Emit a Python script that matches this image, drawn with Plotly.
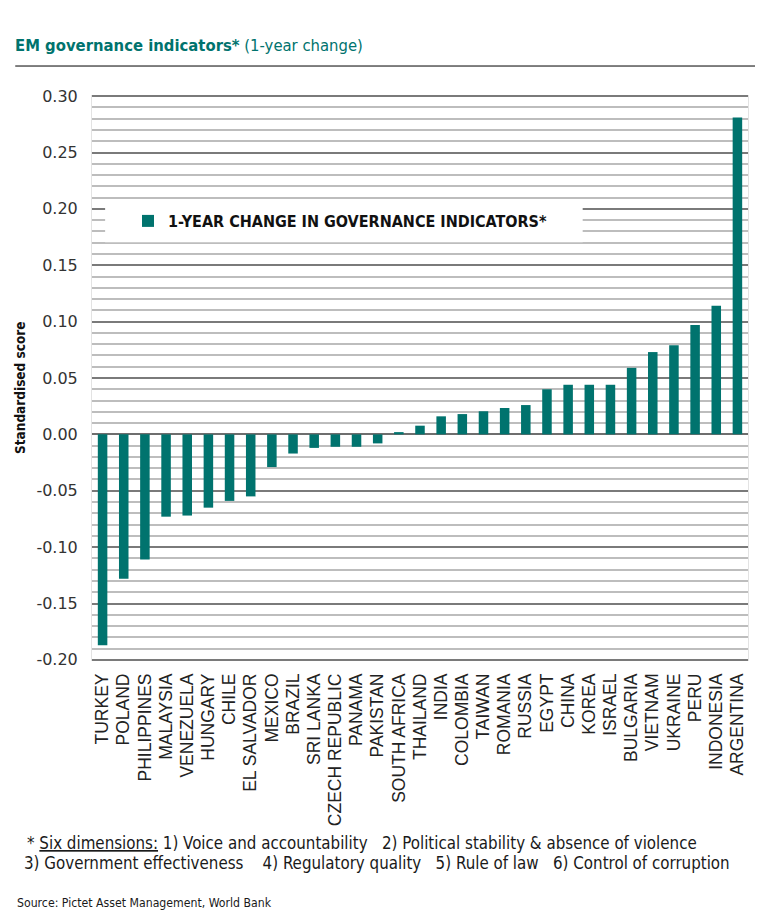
#EM governance indicators, 1-year change

import plotly.graph_objects as go

#%%
#data
countries = ["TURKEY", "POLAND", "PHILIPPINES", "MALAYSIA", "VENEZUELA", "HUNGARY",
             "CHILE", "EL SALVADOR", "MEXICO", "BRAZIL", "SRI LANKA", "CZECH REPUBLIC",
             "PANAMA", "PAKISTAN", "SOUTH AFRICA", "THAILAND", "INDIA", "COLOMBIA",
             "TAIWAN", "ROMANIA", "RUSSIA", "EGYPT", "CHINA", "KOREA", "ISRAEL",
             "BULGARIA", "VIETNAM", "UKRAINE", "PERU", "INDONESIA", "ARGENTINA"]
change = [-0.187, -0.128, -0.111, -0.073, -0.072, -0.065,
          -0.059, -0.055, -0.029, -0.017, -0.012, -0.011,
          -0.011, -0.008, 0.002, 0.0077, 0.016, 0.018,
          0.0205, 0.0234, 0.026, 0.040, 0.044, 0.044, 0.044,
          0.059, 0.073, 0.079, 0.097, 0.114, 0.281]
y_ticks = [0.30, 0.25, 0.20, 0.15, 0.10, 0.05, 0.00, -0.05, -0.10, -0.15, -0.20]

teal = "#00736e"
narrow = "Liberation Sans Narrow, DejaVu Sans Condensed, Arial Narrow, sans-serif"
regular = "Liberation Sans, Arial, sans-serif"

#page has an 8px body margin, so the figure is 8px smaller than the window
W, H = 755, 911

#%%
fig = go.Figure()
fig.add_trace(go.Bar(
    x=countries, y=change,
    name="<b>1-YEAR CHANGE IN GOVERNANCE INDICATORS*</b>",
    marker=dict(color=teal, line=dict(width=0)),
))

fig.update_xaxes(
    tickangle=-90,
    tickfont=dict(family=regular, size=17.5, color="#222222"),
    ticklabelstandoff=8,
    showgrid=False,
    ticks="",
)

fig.update_yaxes(
    range=[-0.201, 0.301],
    tickvals=y_ticks,
    ticktext=[f"{v:.2f}" for v in y_ticks],
    tickfont=dict(family="DejaVu Sans, sans-serif", size=16, color="#333333"),
    ticklabelstandoff=10,
    showgrid=True, gridcolor="#7a7a7a", gridwidth=2,
    zeroline=True, zerolinecolor="#6e6e6e", zerolinewidth=2,
    minor=dict(dtick=0.01, showgrid=True, gridcolor="#bdbdbd", gridwidth=2),
    showline=True, mirror=True, linecolor="#e3e3e3", linewidth=1,
    ticks="",
)

#white box behind the legend
fig.add_shape(type="rect", xref="paper", yref="paper",
              x0=0.02, x1=0.748, y0=0.740, y1=0.816,
              fillcolor="white", line=dict(width=0), layer="above")

#rule under the title
fig.add_shape(type="line", xref="paper", yref="paper",
              x0=-0.117, x1=1.0107, y0=1.0512, y1=1.0512,
              line=dict(color="black", width=1))

notes = [
    ("* <u>Six dimensions:</u> 1) Voice and accountability\u00a0\u00a0\u00a02) Political stability & absence of violence", 25, 843, 16.8),
    ("3) Government effectiveness\u00a0\u00a0\u00a0\u00a04) Regulatory quality\u00a0\u00a0\u00a05) Rule of law\u00a0\u00a0\u00a06) Control of corruption", 22, 863, 16.8),
    ("Source: Pictet Asset Management, World Bank", 15, 903, 12.2),
]
for txt, px_x, px_y, sz in notes:
    fig.add_annotation(text=txt, xref="paper", yref="paper",
                       x=(px_x - 92) / 656, y=(661 - px_y) / 566,
                       xanchor="left", yanchor="middle", showarrow=False,
                       font=dict(family=narrow, size=sz, color="#1a1a1a"))

fig.add_annotation(text="<b>Standardised score</b>", textangle=-90,
                   xref="paper", yref="paper", x=(20 - 92) / 656, y=(661 - 388) / 566,
                   xanchor="center", yanchor="middle", showarrow=False,
                   font=dict(family=narrow, size=13.5, color="#111111"))

fig.update_layout(
    width=W, height=H,
    margin=dict(l=84, r=15, t=87, b=258),
    paper_bgcolor="white", plot_bgcolor="white",
    bargap=0.55,
    showlegend=True,
    title=dict(
        text="<b>EM governance indicators*</b> (1-year change)",
        xref="container", yref="container", x=(15 - 8) / W, y=1 - (45 - 8) / H,
        xanchor="left", yanchor="middle",
        font=dict(family=narrow, size=16.5, color=teal),
    ),
    legend=dict(
        x=(128 - 92) / 656, y=(661 - 221) / 566, xanchor="left", yanchor="middle",
        bgcolor="rgba(0,0,0,0)", font=dict(family=narrow, size=16, color="#111111"),
        itemwidth=30,
    ),
)

fig.write_html("out.html")
